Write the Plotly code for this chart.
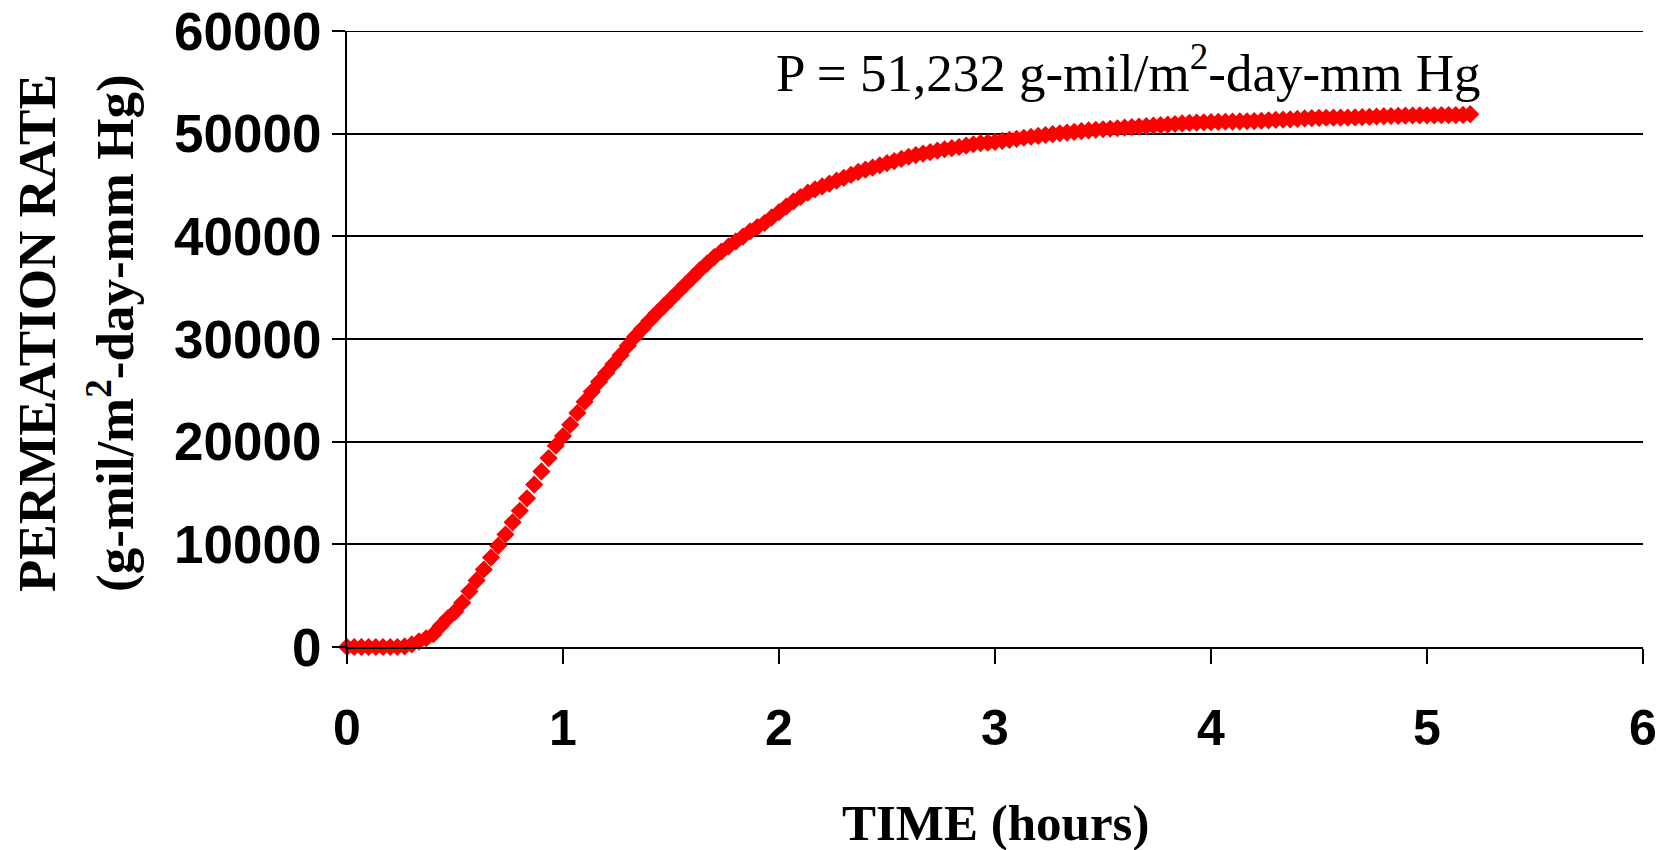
import plotly.graph_objects as go

# time of each sample, minutes (one reading every 2 minutes)
minutes = [0, 2, 4, 6, 8, 10, 12, 14, 16, 18, 20, 22, 24, 26, 28, 30, 32, 34, 36, 38,
           40, 42, 44, 46, 48, 50, 52, 54, 56, 58, 60, 62, 64, 66, 68, 70, 72, 74, 76, 78,
           80, 82, 84, 86, 88, 90, 92, 94, 96, 98, 100, 102, 104, 106, 108, 110, 112, 114, 116, 118,
           120, 122, 124, 126, 128, 130, 132, 134, 136, 138, 140, 142, 144, 146, 148, 150, 152, 154, 156, 158,
           160, 162, 164, 166, 168, 170, 172, 174, 176, 178, 180, 182, 184, 186, 188, 190, 192, 194, 196, 198,
           200, 202, 204, 206, 208, 210, 212, 214, 216, 218, 220, 222, 224, 226, 228, 230, 232, 234, 236, 238,
           240, 242, 244, 246, 248, 250, 252, 254, 256, 258, 260, 262, 264, 266, 268, 270, 272, 274, 276, 278,
           280, 282, 284, 286, 288, 290, 292, 294, 296, 298, 300, 302, 304, 306, 308, 310, 312]

# permeation rate (g-mil/m2-day-mm Hg)
rate = [0, 0, 0, 0, 0, 0, 0, 0, 60, 250, 550, 850, 1250, 2050, 2800, 3430, 4300, 5420, 6480, 7550,
        8710, 9850, 10960, 12140, 13270, 14480, 15820, 17100, 18400, 19600, 20550, 21650, 22800, 23900, 24850, 25830, 26700, 27550, 28420, 29350,
        30230, 31000, 31780, 32500, 33200, 33900, 34600, 35300, 36000, 36700, 37350, 37980, 38520, 39020, 39500, 39980, 40490, 40900, 41300, 41850,
        42350, 42900, 43400, 43830, 44250, 44580, 44860, 45140, 45420, 45700, 45980, 46270, 46490, 46700, 46920, 47130, 47330, 47540, 47750, 47910,
        48060, 48200, 48340, 48480, 48590, 48700, 48840, 48970, 49070, 49130, 49200, 49300, 49400, 49500, 49600, 49700, 49780, 49870, 49960, 50040,
        50110, 50180, 50250, 50320, 50380, 50430, 50480, 50530, 50590, 50640, 50690, 50730, 50780, 50830, 50880, 50940, 51000, 51050, 51080, 51100,
        51120, 51140, 51160, 51180, 51190, 51210, 51230, 51260, 51300, 51340, 51370, 51400, 51440, 51480, 51510, 51540, 51550, 51560, 51560, 51570,
        51580, 51610, 51640, 51670, 51700, 51720, 51740, 51750, 51770, 51780, 51790, 51790, 51800, 51800, 51810, 51830, 51900]

hours = [m / 60 for m in minutes]

x_ticks = [0, 1, 2, 3, 4, 5, 6]
y_ticks = [0, 10000, 20000, 30000, 40000, 50000, 60000]

x_title = "TIME (hours)"
y_title_1 = "PERMEATION RATE"
y_title_2 = "(g-mil/m<sup>2</sup>-day-mm Hg)"
note = "P = 51,232 g-mil/m<sup>2</sup>-day-mm Hg"

serif = "Liberation Serif, Times New Roman, serif"
sans = "Liberation Sans, Arial, sans-serif"

# page body has an 8px margin; figure sized so it fills the window exactly
OFF = 8
W, H = 1673 - OFF, 850 - OFF
L, R, T, B = 347 - OFF, 30, 31 - OFF, 203
PW, PH = W - L - R, H - T - B


def px(xa):
    return (xa - 347) / PW


def py(ya):
    return (647 - ya) / PH


fig = go.Figure()
fig.add_trace(go.Scatter(
    x=hours, y=rate, mode="markers",
    marker=dict(symbol="diamond", size=14, color="#FF0000", line=dict(width=0)),
    showlegend=False, cliponaxis=False,
))

fig.update_layout(
    width=W, height=H,
    margin=dict(l=L, r=R, t=T, b=B),
    paper_bgcolor="white", plot_bgcolor="white",
    xaxis=dict(
        range=[0, 6], tickvals=x_ticks, ticktext=[str(v) for v in x_ticks],
        showgrid=False, zeroline=False, automargin=False,
        showline=True, linecolor="black", linewidth=2,
        ticks="outside", ticklen=15, tickwidth=2, tickcolor="black",
        ticklabelstandoff=21,
        tickfont=dict(family=sans, size=50, color="black", weight="bold"),
    ),
    yaxis=dict(
        range=[0, 60000], tickvals=y_ticks, ticktext=[str(v) for v in y_ticks],
        showgrid=True, gridcolor="black", gridwidth=2, zeroline=False, automargin=False,
        showline=True, linecolor="black", linewidth=2,
        ticks="outside", ticklen=13, tickwidth=2, tickcolor="black",
        ticklabelstandoff=0, ticklabeloverflow="allow",
        tickfont=dict(family=sans, size=53, color="black", weight="bold"),
    ),
    shapes=[
        # top gridline at 60000 (plotly omits a gridline lying on the plot edge)
        dict(type="line", xref="paper", yref="y", x0=0, x1=1, y0=y_ticks[-1], y1=y_ticks[-1],
             line=dict(color="black", width=2), layer="below"),
    ],
    annotations=[
        dict(text="<b>" + x_title + "</b>", xref="paper", yref="paper",
             x=px(995), y=py(823), xanchor="center", yanchor="middle",
             showarrow=False, font=dict(family=serif, size=51, color="black")),
        dict(text="<b>" + y_title_1 + "</b>", xref="paper", yref="paper",
             x=px(37), y=py(333), xanchor="center", yanchor="middle",
             textangle=-90, showarrow=False, font=dict(family=serif, size=53, color="black")),
        dict(text="<b>" + y_title_2 + "</b>", xref="paper", yref="paper",
             x=px(111), y=py(333), xanchor="center", yanchor="middle",
             textangle=-90, showarrow=False, font=dict(family=serif, size=53, color="black")),
        dict(text=note, xref="paper", yref="paper",
             x=px(1128), y=py(69), xanchor="center", yanchor="middle",
             showarrow=False, font=dict(family=serif, size=53, color="black")),
    ],
)

fig.write_html("out.html")
